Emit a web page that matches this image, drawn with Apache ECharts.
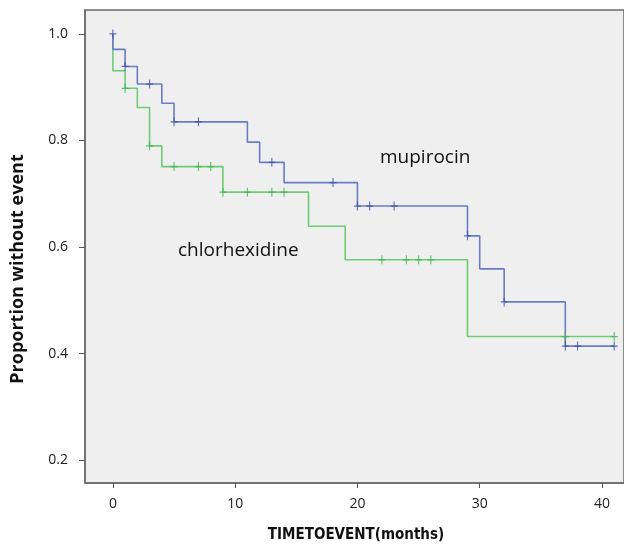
<!DOCTYPE html>
<html>
<head>
<meta charset="utf-8">
<script src="https://cdn.jsdelivr.net/npm/echarts@6/dist/echarts.min.js"></script>
<style>html,body{margin:0;padding:0;background:#fff}#c{width:624px;height:545px}</style>
</head>
<body>
<div id="c"></div>
<script>
// Kaplan-Meier step data (time in months, proportion without event)
var mupirocinTimes = [0, 0, 1, 2, 4, 5, 11, 12, 14, 20, 29, 30, 32, 37, 41];
var mupirocinSurv  = [1.0, 0.971, 0.939, 0.906, 0.870, 0.835, 0.797, 0.759, 0.721, 0.677, 0.621, 0.559, 0.497, 0.414, 0.414];
var mupirocinCensorTimes = [0, 1, 3, 5, 7, 13, 18, 20, 21, 23, 29, 32, 37, 38, 41];

var chlorTimes = [0, 0, 1, 2, 3, 4, 9, 16, 19, 29, 41];
var chlorSurv  = [1.0, 0.931, 0.898, 0.862, 0.790, 0.751, 0.703, 0.639, 0.576, 0.432, 0.432];
var chlorCensorTimes = [1, 3, 5, 7, 8, 9, 11, 13, 14, 22, 24, 25, 26, 37, 41];

var yTicks = [0.2, 0.4, 0.6, 0.8, 1.0];
var xTicks = [0, 10, 20, 30, 40];
var groupLabels = ['mupirocin', 'chlorhexidine'];
var xTitle = 'TIMETOEVENT(months)';
var yTitle = 'Proportion without event';

function stepData(t, s) { return t.map(function (v, i) { return [v, s[i]]; }); }
function survAt(t, s, time) {
  if (time === t[0]) return s[0];
  var v = s[0];
  for (var i = 0; i < t.length; i++) { if (t[i] <= time) v = s[i]; }
  return v;
}
function censorData(t, s, ct) { return ct.map(function (c) { return [c, survAt(t, s, c)]; }); }

var plus = 'path://M4.2,0H5.8V4.3H10V5.7H5.8V10H4.2V5.7H0V4.3H4.2Z';
var blueLine = '#6a7cc4', blueMark = '#3a4fa6';
var greenLine = '#6fcc76', greenMark = '#3db34c';

var chart = echarts.init(document.getElementById('c'));
chart.setOption({
  animation: false,
  backgroundColor: '#ffffff',
  grid: { left: 85, right: -3, top: 10, bottom: 62, show: true, backgroundColor: '#efefef', borderColor: '#6b6b6b', borderWidth: 1.5 },
  xAxis: {
    type: 'value', min: -2.28, max: 41.8,
    axisLine: { show: true, onZero: false, lineStyle: { color: '#6b6b6b', width: 1.5 } },
    axisTick: { show: true, length: 5, lineStyle: { color: '#555' }, customValues: xTicks },
    axisLabel: { customValues: xTicks, margin: 14, color: '#222', fontSize: 14, fontFamily: 'Open Sans' },
    splitLine: { show: false }
  },
  yAxis: {
    type: 'value', min: 0.157, max: 1.045,
    axisLine: { show: true, onZero: false, lineStyle: { color: '#6b6b6b', width: 1.5 } },
    axisTick: { show: true, length: 6, lineStyle: { color: '#555' }, customValues: yTicks },
    axisLabel: { customValues: yTicks, margin: 17, color: '#222', fontSize: 14, fontFamily: 'Open Sans',
      formatter: function (v) { return v.toFixed(1); } },
    splitLine: { show: false }
  },
  series: [
    { type: 'line', step: 'end', data: stepData(chlorTimes, chlorSurv), showSymbol: false, lineStyle: { color: greenLine, width: 1.6 }, z: 2 },
    { type: 'line', step: 'end', data: stepData(mupirocinTimes, mupirocinSurv), showSymbol: false, lineStyle: { color: blueLine, width: 1.6 }, z: 3 },
    { type: 'scatter', data: censorData(chlorTimes, chlorSurv, chlorCensorTimes), symbol: plus, symbolSize: [7, 9], itemStyle: { color: greenMark }, z: 4 },
    { type: 'scatter', data: censorData(mupirocinTimes, mupirocinSurv, mupirocinCensorTimes), symbol: plus, symbolSize: [7, 9], itemStyle: { color: blueMark }, z: 5 }
  ],
  graphic: [
    { type: 'text', left: 380, top: 148, style: { text: groupLabels[0], fontFamily: 'Open Sans', fontSize: 19, fill: '#111' } },
    { type: 'text', left: 178, top: 241, style: { text: groupLabels[1], fontFamily: 'Open Sans', fontSize: 19, fill: '#111' } },
    { type: 'text', x: 356, y: 535, style: { text: xTitle, fontFamily: 'DejaVu Sans Condensed', fontWeight: 'bold', fontSize: 15, fill: '#111', align: 'center', verticalAlign: 'middle' } },
    { type: 'text', x: 18, y: 269, rotation: Math.PI / 2, style: { text: yTitle, fontFamily: 'Open Sans', fontWeight: 'bold', fontSize: 18, fill: '#111', align: 'center', verticalAlign: 'middle' } }
  ]
});
</script>
</body>
</html>
